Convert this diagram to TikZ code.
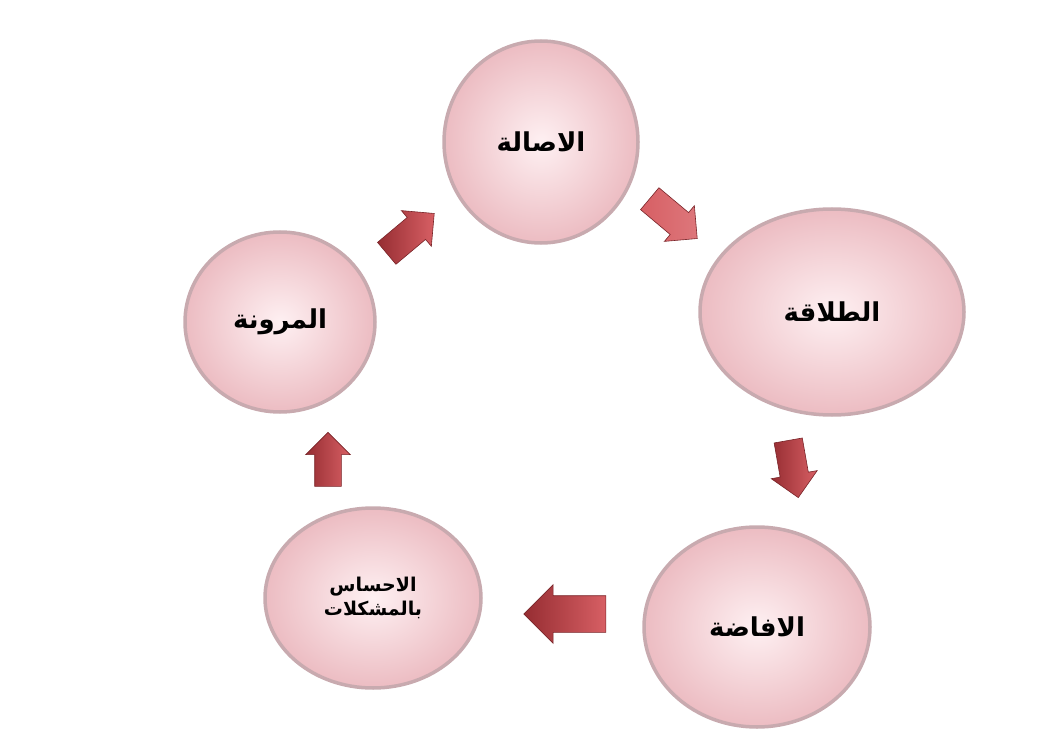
\documentclass[tikz,border=0pt]{standalone}
\usepackage{fontspec}
\TeXXeTstate=1
\newfontfamily\arabicfont[Script=Arabic]{DejaVu Sans}
\usetikzlibrary{shapes.geometric,shapes.arrows}
\definecolor{pinkin}{RGB}{254,240,242}
\definecolor{pinkout}{RGB}{236,188,194}
\definecolor{ringc}{RGB}{200,170,175}
\definecolor{arrdark}{RGB}{150,45,50}
\definecolor{arrlight}{RGB}{215,95,100}
\tikzset{
  bubble/.style={ellipse, inner color=pinkin, outer color=pinkout, draw=ringc, line width=3.5pt,
    font=\arabicfont\bfseries\fontsize{26}{30}\selectfont, align=center, text=black},
  barrow/.style={single arrow, single arrow head extend=9pt, inner xsep=0pt, inner ysep=14pt,
    left color=arrdark, right color=arrlight, draw=arrdark!80!black, line width=0.6pt}
}
\begin{document}
\begin{tikzpicture}[x=1pt,y=-1pt]
\useasboundingbox (0,0) rectangle (1055,754);
\node[bubble, minimum width=194pt, minimum height=202pt] (asala) at (541,142) {\beginR الاصالة\endR};
\node[bubble, minimum width=264pt, minimum height=206pt] (talaqa) at (832,312) {\beginR الطلاقة\endR};
\node[bubble, minimum width=226pt, minimum height=200pt] (ifada) at (757,627) {\beginR الافاضة\endR};
\node[bubble, minimum width=216pt, minimum height=180pt, font=\arabicfont\bfseries\fontsize{19}{24}\selectfont] (ihsas) at (373,598) {\beginR الاحساس\endR\\\beginR بالمشكلات\endR};
\node[bubble, minimum width=190pt, minimum height=180pt] (muruna) at (280,322) {\beginR المرونة\endR};
\node[barrow, minimum height=62pt, rotate=40] (a1) at (405,238) {};
\node[barrow, minimum height=62pt, rotate=-40, left color=arrlight, right color=arrlight!85!white] (a2) at (668,214) {};
\node[barrow, minimum height=58pt, rotate=-80] (a3) at (792,462) {};
\node[barrow, minimum height=82pt, inner ysep=18pt, single arrow head extend=11pt, rotate=180] (a4) at (574,614) {};
\node[barrow, minimum height=54pt, inner ysep=13pt, rotate=90] (a5) at (328,466) {};
\end{tikzpicture}
\end{document}
